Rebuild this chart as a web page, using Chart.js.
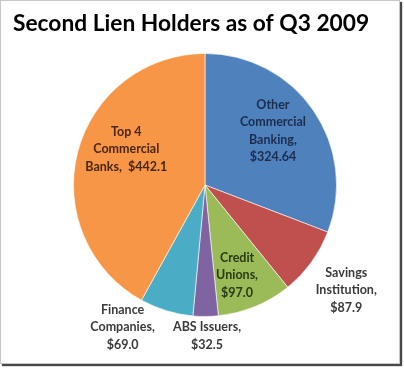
<!DOCTYPE html>
<html>
<head>
<meta charset="utf-8">
<script src="https://cdn.jsdelivr.net/npm/chart.js@4"></script>
<style>
  html, body { margin: 0; padding: 0; background: #fff; }
  #frame { position: absolute; left: 0; top: 0; width: 398px; height: 362px; border: 1px solid #c8c8c8; box-shadow: 2px 2px 1px rgba(40,40,40,0.85); background: #fff; }
  #c { position: absolute; left: 0; top: 0; }
</style>
</head>
<body>
<div id="frame"></div>
<canvas id="c" width="404" height="369"></canvas>
<script>
const titleText = 'Second Lien Holders as of Q3 2009';
const categories = ['Other Commercial Banking', 'Savings Institution', 'Credit Unions', 'ABS Issuers', 'Finance Companies', 'Top 4 Commercial Banks'];
const values = [324.64, 87.9, 97.0, 32.5, 69.0, 442.1];
const valueLabels = ['$324.64', '$87.9', '$97.0', '$32.5', '$69.0', '$442.1'];
const labelLines = [
  ['Other', 'Commercial', 'Banking,', valueLabels[0]],
  ['Savings', 'Institution,', valueLabels[1]],
  ['Credit', 'Unions,', valueLabels[2]],
  ['ABS Issuers,', valueLabels[3]],
  ['Finance', 'Companies,', valueLabels[4]],
  ['Top 4', 'Commercial', 'Banks,  ' + valueLabels[5]]
];
const sliceColors = ['#4F81BD', '#C0504D', '#9BBB59', '#8064A2', '#4BACC6', '#F79646'];
const textColors = ['#1b2d4f', '#3a3a3a', '#2c3a12', '#3a3a3a', '#3a3a3a', '#4a2810'];
const labelRadius = [0.66, 1.34, 0.727, 1.15, 1.25, 0.657];
const labelAngleOffsetDeg = [-4, 0.7, 2.8, -0.5, 13, 9.9];

const titleAndLabels = {
  id: 'titleAndLabels',
  afterDraw(chart) {
    const ctx = chart.ctx;
    ctx.save();
    ctx.fillStyle = '#000';
    ctx.font = 'bold 22.75px Lato, "Open Sans", sans-serif';
    ctx.textAlign = 'left';
    ctx.textBaseline = 'alphabetic';
    ctx.fillText(titleText, 13, 31);
    ctx.restore();
  },
  afterDatasetsDraw(chart) {
    const ctx = chart.ctx;
    const meta = chart.getDatasetMeta(0);
    ctx.save();
    ctx.font = 'bold 12.5px Lato, "Open Sans", sans-serif';
    ctx.textAlign = 'center';
    ctx.textBaseline = 'middle';
    meta.data.forEach((arc, i) => {
      const p = arc.getProps(['x', 'y', 'startAngle', 'endAngle', 'outerRadius'], true);
      const mid = (p.startAngle + p.endAngle) / 2 + labelAngleOffsetDeg[i] * Math.PI / 180;
      const r = p.outerRadius * labelRadius[i];
      const cx = p.x + Math.cos(mid) * r;
      const cy = p.y + Math.sin(mid) * r;
      const lines = labelLines[i];
      const lh = 17.5;
      const y0 = cy - (lines.length - 1) * lh / 2;
      ctx.fillStyle = textColors[i];
      lines.forEach((t, k) => ctx.fillText(t, cx, y0 + k * lh));
    });
    ctx.restore();
  }
};

new Chart(document.getElementById('c'), {
  type: 'pie',
  data: {
    labels: categories,
    datasets: [{
      data: values,
      backgroundColor: sliceColors,
      borderColor: 'rgba(255,255,255,0.6)',
      borderWidth: 1
    }]
  },
  options: {
    responsive: false,
    animation: false,
    layout: { padding: { left: 6, right: 0, top: 53, bottom: 52 } },
    plugins: {
      legend: { display: false },
      tooltip: { enabled: false },
      title: { display: false }
    }
  },
  plugins: [titleAndLabels]
});
</script>
</body>
</html>
